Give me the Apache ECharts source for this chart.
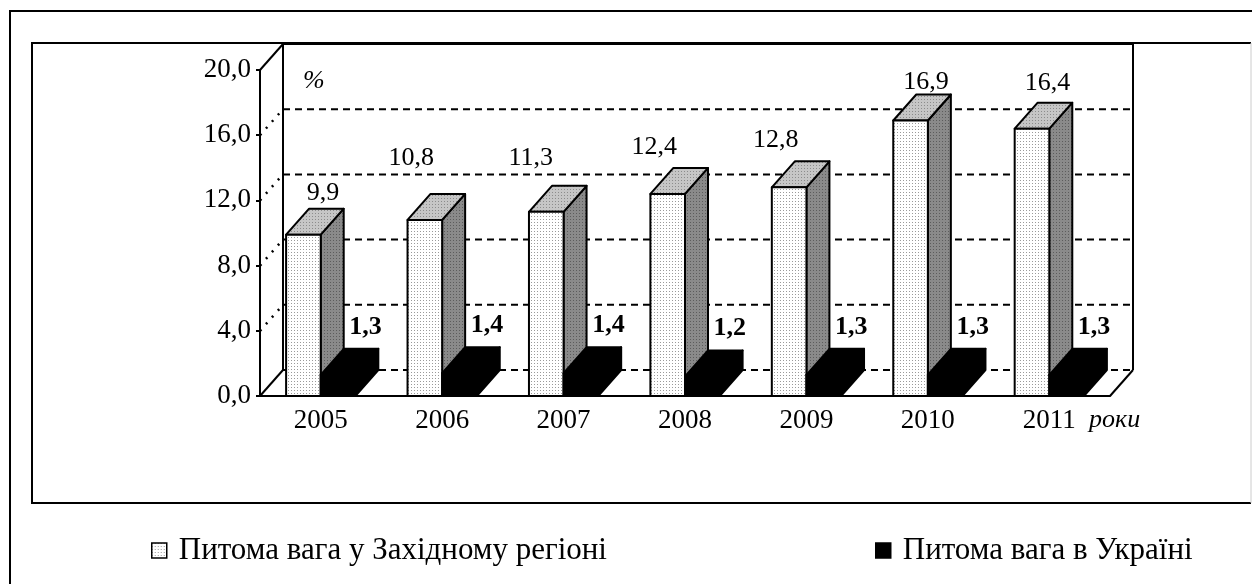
<!DOCTYPE html>
<html>
<head>
  <meta charset="UTF-8">
  <title>Питома вага</title>
  <script src="https://cdn.jsdelivr.net/npm/echarts@6/dist/echarts.min.js"></script>
  <style>html,body{margin:0;padding:0;background:#fff}</style>
</head>
<body>
  <div id="main" style="width:1252px;height:584px"></div>
  <script>
    // дані
    const years = ['2005', '2006', '2007', '2008', '2009', '2010', '2011'];
    const westShare = [9.9, 10.8, 11.3, 12.4, 12.8, 16.9, 16.4];
    const ukraineShare = [1.3, 1.4, 1.4, 1.2, 1.3, 1.3, 1.3];
    const yTicks = [0, 4, 8, 12, 16, 20];
    const seriesNames = ['Питома вага у Західному регіоні', 'Питома вага в Україні'];

    // підписи першого ряду в оригіналі трохи зсунуті вручну
    const westLabelDx = [8, -25, -27, -25, -25, 4, 4];
    const westLabelDy = [-15, -36, -28, -21, -21, -12, -20];

    const DX = 23, DY = -26;   // глибина "3D"
    const FONT = '"Liberation Serif", "Times New Roman", serif';
    const fmt = v => v.toFixed(1).replace('.', ',');

    function dots(bg, dot, step) {
      const c = document.createElement('canvas');
      c.width = step; c.height = step;
      const g = c.getContext('2d');
      g.fillStyle = bg; g.fillRect(0, 0, step, step);
      g.fillStyle = dot; g.fillRect(0, 0, 1, 1);
      return { image: c, repeat: 'repeat' };
    }
    const frontFill = dots('#ffffff', '#9a9a9a', 3);
    const topFill = dots('#c6c6c6', '#8c8c8c', 3);
    const sideFill = dots('#8a8a8a', '#5c5c5c', 3);

    function box(x, w, yTop, yBot, fills) {
      const st = f => ({ fill: f, stroke: '#000', lineWidth: 2, lineJoin: 'round' });
      return [
        { type: 'polygon', shape: { points: [[x + w, yBot], [x + w + DX, yBot + DY], [x + w + DX, yTop + DY], [x + w, yTop]] }, style: st(fills[2]) },
        { type: 'polygon', shape: { points: [[x, yTop], [x + DX, yTop + DY], [x + w + DX, yTop + DY], [x + w, yTop]] }, style: st(fills[1]) },
        { type: 'rect', shape: { x: x, y: yTop, width: w, height: yBot - yTop }, style: st(fills[0]) }
      ];
    }

    function barRenderer(offset, fills, makeLabel) {
      return function (params, api) {
        const i = api.value(0);
        const top = api.coord([i, api.value(1)]);
        const bot = api.coord([i, 0]);
        const bw = api.size([1, 0])[0];
        const w = bw * 0.285;
        const x = top[0] + bw * offset;
        const children = box(x, w, top[1], bot[1], fills);
        children.push(makeLabel(params.dataIndex, api.value(1), x + w / 2 + DX / 2, top[1] + DY));
        return { type: 'group', children: children };
      };
    }

    function frameRenderer(params, api) {
      const cs = params.coordSys;
      const x0 = cs.x, x1 = cs.x + cs.width;
      const yB = cs.y + cs.height, yT = cs.y;
      const line = (a, b, extra) => ({ type: 'line', shape: { x1: a[0], y1: a[1], x2: b[0], y2: b[1] }, style: Object.assign({ stroke: '#000', lineWidth: 2 }, extra || {}) });
      const ch = [];
      yTicks.forEach(v => {
        const y = api.coord([0, v])[1];
        if (v > 0 && v < 20) {
          ch.push(line([x0, y], [x0 + DX, y + DY], { lineDash: [2, 7], lineWidth: 2.5 }));
        }
        if (v < 20) {
          ch.push(line([x0 + DX, y + DY], [x1 + DX, y + DY], { lineDash: [7, 5] }));
        }
      });
      ch.push(line([x0 + DX, yT + DY], [x0 + DX, yB + DY]));
      ch.push(line([x0, yT], [x0 + DX, yT + DY]));
      ch.push(line([x0, yB], [x0 + DX, yB + DY]));
      ch.push(line([x0 + DX, yT + DY], [x1 + DX, yT + DY]));
      ch.push(line([x1 + DX, yT + DY], [x1 + DX, yB + DY]));
      ch.push(line([x1, yB], [x1 + DX, yB + DY]));
      ch.push({ type: 'text', style: { text: '%', x: x0 + DX + 20, y: yT + DY + 37, font: 'italic 26px ' + FONT, fill: '#000', align: 'left', verticalAlign: 'middle' } });
      ch.push({ type: 'text', style: { text: 'роки', x: x1 - 21, y: yB + 24, font: 'italic 26px ' + FONT, fill: '#000', align: 'left', verticalAlign: 'middle' } });
      return { type: 'group', children: ch };
    }

    const chart = echarts.init(document.getElementById('main'));
    const option = {
      animation: false,
      backgroundColor: '#fff',
      grid: { left: 260, right: 142, top: 70, bottom: 188 },
      xAxis: {
        type: 'category',
        data: years,
        axisLine: { lineStyle: { color: '#000', width: 2 } },
        axisTick: { length: 5, lineStyle: { color: '#000', width: 2 } },
        axisLabel: { color: '#000', fontSize: 27, fontFamily: FONT, margin: 11 }
      },
      yAxis: {
        type: 'value',
        min: 0, max: 20, interval: 4,
        axisLine: { show: true, lineStyle: { color: '#000', width: 2 } },
        axisTick: { show: true, length: 4, lineStyle: { color: '#000', width: 2 } },
        axisLabel: { color: '#000', fontSize: 27, fontFamily: FONT, margin: 9, formatter: fmt },
        splitLine: { show: false }
      },
      legend: [
        { data: [seriesNames[0]], left: 146, top: 530 },
        { data: [seriesNames[1]], left: 870, top: 530 }
      ].map(l => Object.assign(l, {
        icon: 'rect', itemWidth: 15, itemHeight: 15,
        itemStyle: { borderColor: '#000', borderWidth: 1.5 },
        textStyle: { color: '#000', fontSize: 31, fontFamily: FONT, padding: [0, 0, 0, 7] },
        selectedMode: false
      })),
      graphic: [
        { type: 'rect', silent: true, shape: { x: 10, y: 11, width: 1400, height: 700 }, style: { fill: null, stroke: '#000', lineWidth: 2 } },
        { type: 'polyline', silent: true, shape: { points: [[1251, 43], [32, 43], [32, 503], [1251, 503]] }, style: { fill: null, stroke: '#000', lineWidth: 2 } },
        { type: 'line', silent: true, shape: { x1: 1251, y1: 43, x2: 1251, y2: 503 }, style: { stroke: '#ccc', lineWidth: 1 } }
      ],
      series: [
        {
          type: 'custom', name: 'frame', silent: true,
          renderItem: frameRenderer,
          data: [[0, 0]]
        },
        {
          type: 'custom', name: seriesNames[0],
          itemStyle: { color: frontFill, borderColor: '#000', borderWidth: 1.5 },
          renderItem: barRenderer(-0.285, [frontFill, topFill, sideFill], (i, v, cx, ty) => ({
            type: 'text',
            style: { text: fmt(v), x: cx + westLabelDx[i], y: ty + westLabelDy[i], font: '26px ' + FONT, fill: '#000', align: 'center', verticalAlign: 'middle' }
          })),
          data: westShare.map((v, i) => [years[i], v])
        },
        {
          type: 'custom', name: seriesNames[1],
          itemStyle: { color: '#000', borderColor: '#000', borderWidth: 1.5 },
          renderItem: barRenderer(0, ['#000', '#000', '#000'], (i, v, cx, ty) => ({
            type: 'text',
            style: { text: fmt(v), x: cx + 16, y: ty - 22, font: 'bold 26px ' + FONT, fill: '#000', align: 'center', verticalAlign: 'middle' }
          })),
          data: ukraineShare.map((v, i) => [years[i], v])
        }
      ]
    };
    chart.setOption(option);
  </script>
</body>
</html>
